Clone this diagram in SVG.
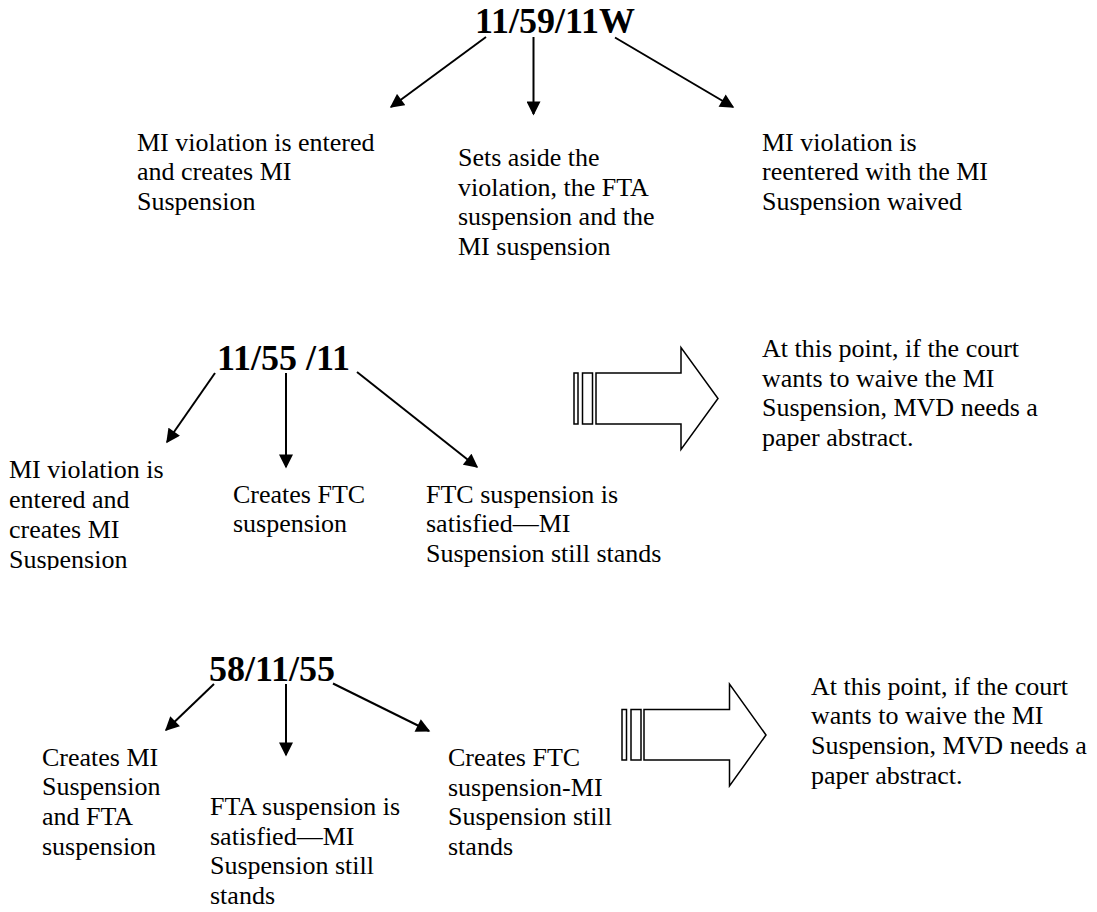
<svg xmlns="http://www.w3.org/2000/svg" width="1097" height="912" viewBox="0 0 1097 912">
<style>
.t{font-family:"Liberation Serif","Times New Roman",serif;font-size:26px;fill:#000}
.h{font-family:"Liberation Serif","Times New Roman",serif;font-size:36px;font-weight:bold;fill:#000}
.c{stroke:#000;stroke-width:2;fill:none;marker-end:url(#ah)}
.b{stroke:#000;stroke-width:1.5;fill:#fff}
</style>
<defs>
<marker id="ah" viewBox="0 0 10 10" refX="9" refY="5" markerUnits="userSpaceOnUse" markerWidth="15" markerHeight="14" orient="auto">
<path d="M0,0 L10,5 L0,10 Z" fill="#000"/>
</marker>
<clipPath id="clipL"><rect x="0" y="440" width="200" height="130"/></clipPath>
</defs>
<rect width="1097" height="912" fill="#fff"/>

<g id="title1"><text class="h" x="475" y="33">11/59/11W</text></g>
<g id="t1a"><text class="t" x="137"><tspan x="137" y="150.7">MI violation is entered</tspan><tspan x="137" y="180.4">and creates MI</tspan><tspan x="137" y="210.1">Suspension</tspan></text></g>
<g id="t1b"><text class="t"><tspan x="458" y="166">Sets aside the</tspan><tspan x="458" y="195.7">violation, the FTA</tspan><tspan x="458" y="225.4">suspension and the</tspan><tspan x="458" y="255.1">MI suspension</tspan></text></g>
<g id="t1c"><text class="t"><tspan x="762" y="150.7">MI violation is</tspan><tspan x="762" y="180.4">reentered with the MI</tspan><tspan x="762" y="210.1">Suspension waived</tspan></text></g>

<g id="title2"><text class="h" x="217" y="370">11/55 /11</text></g>
<g id="t2a" clip-path="url(#clipL)"><text class="t"><tspan x="9" y="478.3">MI violation is</tspan><tspan x="9" y="508.3">entered and</tspan><tspan x="9" y="538.3">creates MI</tspan><tspan x="9" y="568.3">Suspension</tspan></text></g>
<g id="t2b"><text class="t"><tspan x="233" y="502.7">Creates FTC</tspan><tspan x="233" y="532.4">suspension</tspan></text></g>
<g id="t2c"><text class="t"><tspan x="426" y="502.7">FTC suspension is</tspan><tspan x="426" y="532.4">satisfied—MI</tspan><tspan x="426" y="562.1">Suspension still stands</tspan></text></g>
<g id="block1">
<rect class="b" x="574" y="373" width="4" height="51"/>
<rect class="b" x="582.5" y="373" width="10" height="51"/>
<polygon class="b" points="596,373 681,373 681,347.5 718,398.5 681,449.5 681,424 596,424"/>
</g>
<g id="t2d"><text class="t"><tspan x="762" y="357">At this point, if the court</tspan><tspan x="762" y="386.7">wants to waive the MI</tspan><tspan x="762" y="416.4">Suspension, MVD needs a</tspan><tspan x="762" y="446.1">paper abstract.</tspan></text></g>

<g id="title3"><text class="h" x="209" y="681">58/11/55</text></g>
<g id="t3a"><text class="t"><tspan x="42" y="765.5">Creates MI</tspan><tspan x="42" y="795.2">Suspension</tspan><tspan x="42" y="824.9">and FTA</tspan><tspan x="42" y="854.6">suspension</tspan></text></g>
<g id="t3b"><text class="t"><tspan x="210" y="815">FTA suspension is</tspan><tspan x="210" y="844.7">satisfied—MI</tspan><tspan x="210" y="874.4">Suspension still</tspan><tspan x="210" y="904.1">stands</tspan></text></g>
<g id="t3c"><text class="t"><tspan x="448" y="766">Creates FTC</tspan><tspan x="448" y="795.7">suspension-MI</tspan><tspan x="448" y="825.4">Suspension still</tspan><tspan x="448" y="855.1">stands</tspan></text></g>
<g id="block2">
<rect class="b" x="622" y="709.5" width="4.5" height="50.5"/>
<rect class="b" x="631" y="709.5" width="10" height="50.5"/>
<polygon class="b" points="644,709.5 729.5,709.5 729.5,684 766,735 729.5,786 729.5,760 644,760"/>
</g>
<g id="t3d"><text class="t"><tspan x="811" y="694.5">At this point, if the court</tspan><tspan x="811" y="724.2">wants to waive the MI</tspan><tspan x="811" y="753.9">Suspension, MVD needs a</tspan><tspan x="811" y="783.6">paper abstract.</tspan></text></g>

<g id="connectors">
<line class="c" x1="486" y1="37" x2="391" y2="107"/>
<line class="c" x1="533.5" y1="37" x2="533.5" y2="114"/>
<line class="c" x1="615" y1="37.5" x2="733" y2="107"/>
<line class="c" x1="215" y1="373" x2="167" y2="442"/>
<line class="c" x1="286" y1="373" x2="286" y2="467"/>
<line class="c" x1="357" y1="372" x2="477" y2="467"/>
<line class="c" x1="214" y1="684" x2="166" y2="730"/>
<line class="c" x1="286" y1="684" x2="286" y2="755"/>
<line class="c" x1="333" y1="683.5" x2="429" y2="731"/>
</g>
</svg>
